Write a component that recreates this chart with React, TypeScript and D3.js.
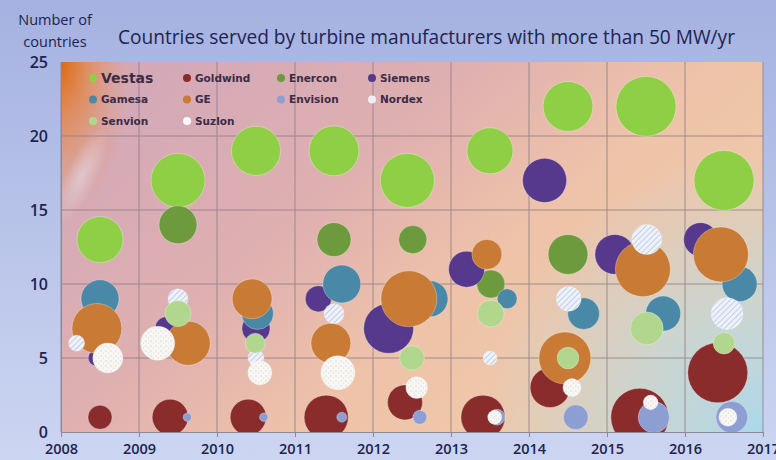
import { useEffect, useRef } from "react";
import * as d3 from "d3";

// [x position (year), countries served, bubble size]
const vestas = [[2008.5, 13, 59], [2009.5, 17, 81], [2010.5, 19, 67], [2011.5, 19, 69], [2012.44, 17, 81], [2013.5, 19, 59], [2014.5, 22, 69], [2015.5, 22, 100], [2016.5, 17, 100]];
const goldwind = [[2008.5, 1, 16], [2009.4, 1, 36], [2010.4, 1, 36], [2011.4, 1, 54], [2012.41, 2, 34], [2013.41, 1, 54], [2014.27, 3, 44], [2015.42, 1, 93], [2016.42, 4, 100]];
const enercon = [[2009.5, 14, 40], [2011.5, 13, 32], [2012.51, 13, 22], [2013.51, 10, 22], [2014.5, 12, 44]];
const siemens = [[2008.45, 5, 7], [2009.36, 7, 16], [2010.5, 7, 22], [2011.3, 9, 19], [2012.2, 7, 69], [2013.2, 11, 36], [2014.2, 17, 54], [2015.1, 12, 44], [2016.2, 13, 32]];
const gamesa = [[2008.5, 9, 40], [2010.52, 8, 28], [2011.6, 10, 40], [2012.73, 9, 36], [2013.72, 9, 11], [2014.7, 8, 28], [2015.72, 8, 34], [2016.7, 10, 34]];
const ge = [[2008.46, 7, 69], [2009.63, 6, 54], [2010.45, 9, 44], [2011.46, 6, 44], [2012.46, 9, 87], [2013.46, 12, 25], [2014.46, 5, 75], [2015.46, 11, 84], [2016.46, 12, 84]];
const envision = [[2009.62, 1, 2], [2010.6, 1, 2], [2011.6, 1, 2.8], [2012.6, 1, 5.4], [2013.59, 1, 7], [2014.6, 1, 17], [2015.6, 1, 27], [2016.6, 1, 28]];
const nordex = [[2008.2, 6, 7], [2009.5, 9, 11], [2010.5, 5, 7], [2011.5, 8, 11], [2013.5, 5, 5.4], [2014.51, 9, 17], [2015.51, 13, 25], [2016.54, 8, 28]];
const senvion = [[2009.5, 8, 19], [2010.49, 6, 11], [2012.5, 5, 17], [2013.51, 8, 20], [2014.5, 5, 13], [2015.51, 7, 30], [2016.5, 6, 13]];
const suzlon = [[2008.6, 5, 25], [2009.24, 6, 32], [2010.55, 4, 16], [2011.55, 4, 32], [2012.56, 3, 13], [2013.56, 1, 5.4], [2014.55, 3, 9], [2015.56, 2, 6], [2016.55, 1, 9]];

const manufacturers = ["Vestas", "Goldwind", "Enercon", "Siemens", "Gamesa", "GE", "Envision", "Nordex", "Senvion", "Suzlon"];
const seriesData = [vestas, goldwind, enercon, siemens, gamesa, ge, envision, nordex, senvion, suzlon];
const seriesFill = ["#8fcf45", "#8a2b2c", "#6c9a3c", "#56398c", "#4a88a8", "#c97a35", "#8d9ed3", "url(#hatch)", "#b1d78f", "url(#speckle)"];
const legendSwatch = ["#8fcf45", "#8a2b2c", "#6c9a3c", "#56398c", "#4a88a8", "#c97a35", "#8d9ed3", "#eef0f8", "#b1d78f", "#fbfbfb"];

const xTicks = [2008, 2009, 2010, 2011, 2012, 2013, 2014, 2015, 2016, 2017];
const yTicks = [0, 5, 10, 15, 20, 25];
const title = "Countries served by turbine manufacturers with more than 50 MW/yr";

export default function App() {
  const svgRef = useRef<SVGSVGElement | null>(null);

  useEffect(() => {
    const W = 776, H = 460;
    const margin = { top: 62, right: 13, bottom: 28, left: 61 };
    const svg = d3.select(svgRef.current);
    svg.selectAll("*").remove();

    const x = d3.scaleLinear().domain([2008, 2017]).range([margin.left, W - margin.right]);
    const y = d3.scaleLinear().domain([0, 25]).range([H - margin.bottom, margin.top]);
    const r = d3.scaleSqrt().domain([0, 100]).range([0, 30]);
    const pw = W - margin.left - margin.right, ph = H - margin.top - margin.bottom;

    const defs = svg.append("defs");
    const outer = defs.append("linearGradient").attr("id", "outer").attr("x1", 0).attr("y1", 0).attr("x2", 0).attr("y2", 1);
    outer.append("stop").attr("offset", "0%").attr("stop-color", "#a5b2e1");
    outer.append("stop").attr("offset", "100%").attr("stop-color", "#ccd5f1");

    const plotBg = defs.append("linearGradient").attr("id", "plotbg").attr("x1", 0).attr("y1", 0.2).attr("x2", 1).attr("y2", 0.8);
    plotBg.append("stop").attr("offset", "0%").attr("stop-color", "#d3a8b8");
    plotBg.append("stop").attr("offset", "35%").attr("stop-color", "#dfb0b0");
    plotBg.append("stop").attr("offset", "60%").attr("stop-color", "#eec3a9");
    plotBg.append("stop").attr("offset", "100%").attr("stop-color", "#f0cca9");

    const blue = defs.append("radialGradient").attr("id", "bluecorner")
      .attr("gradientUnits", "userSpaceOnUse").attr("cx", W - margin.right).attr("cy", H - margin.bottom).attr("r", 280);
    blue.append("stop").attr("offset", "0%").attr("stop-color", "#acd8ea").attr("stop-opacity", 1);
    blue.append("stop").attr("offset", "45%").attr("stop-color", "#bcd9e0").attr("stop-opacity", 0.7);
    blue.append("stop").attr("offset", "100%").attr("stop-color", "#bcd9e0").attr("stop-opacity", 0);

    const orange = defs.append("radialGradient").attr("id", "orangecorner")
      .attr("gradientUnits", "userSpaceOnUse").attr("cx", margin.left).attr("cy", margin.top).attr("r", 160)
      .attr("gradientTransform", `translate(${margin.left},${margin.top}) scale(0.45,1) translate(${-margin.left},${-margin.top})`);
    orange.append("stop").attr("offset", "0%").attr("stop-color", "#de6810").attr("stop-opacity", 1);
    orange.append("stop").attr("offset", "35%").attr("stop-color", "#e2823a").attr("stop-opacity", 0.7);
    orange.append("stop").attr("offset", "100%").attr("stop-color", "#e8a070").attr("stop-opacity", 0);

    const glow = defs.append("radialGradient").attr("id", "glow")
      .attr("gradientUnits", "userSpaceOnUse").attr("cx", 82).attr("cy", 175).attr("r", 40)
      .attr("gradientTransform", "translate(82,175) rotate(25) scale(0.4,1.3) translate(-82,-175)");
    glow.append("stop").attr("offset", "0%").attr("stop-color", "#e4dcef").attr("stop-opacity", 0.6);
    glow.append("stop").attr("offset", "100%").attr("stop-color", "#e4dcef").attr("stop-opacity", 0);

    const hatch = defs.append("pattern").attr("id", "hatch").attr("patternUnits", "userSpaceOnUse")
      .attr("width", 4).attr("height", 4).attr("patternTransform", "rotate(45)");
    hatch.append("rect").attr("width", 4).attr("height", 4).attr("fill", "#eef2fa");
    hatch.append("line").attr("x1", 0).attr("y1", 0).attr("x2", 0).attr("y2", 4).attr("stroke", "#a9b9e0").attr("stroke-width", 1.3);

    const speckle = defs.append("pattern").attr("id", "speckle").attr("patternUnits", "userSpaceOnUse")
      .attr("width", 5).attr("height", 5);
    speckle.append("rect").attr("width", 5).attr("height", 5).attr("fill", "#f8f7f3");
    speckle.append("circle").attr("cx", 1).attr("cy", 1).attr("r", 0.7).attr("fill", "#cfd4e0");
    speckle.append("circle").attr("cx", 3.5).attr("cy", 3).attr("r", 0.6).attr("fill", "#dcd6cc");

    defs.append("clipPath").attr("id", "plotclip").append("rect")
      .attr("x", margin.left).attr("y", margin.top).attr("width", pw).attr("height", ph);

    svg.append("rect").attr("width", W).attr("height", H).attr("fill", "url(#outer)");

    const bg = svg.append("g");
    ["url(#plotbg)", "url(#bluecorner)", "url(#orangecorner)", "url(#glow)"].forEach(fill => {
      bg.append("rect").attr("x", margin.left).attr("y", margin.top).attr("width", pw).attr("height", ph).attr("fill", fill);
    });

    // grid
    const grid = svg.append("g").attr("stroke", "#8c7c86").attr("stroke-width", 1).attr("opacity", 0.8);
    grid.selectAll(".vg").data(xTicks).join("line")
      .attr("x1", d => x(d)).attr("x2", d => x(d)).attr("y1", margin.top).attr("y2", H - margin.bottom);
    grid.selectAll(".hg").data(yTicks.filter(d => d > 0 && d < 25)).join("line")
      .attr("x1", margin.left).attr("x2", W - margin.right).attr("y1", d => y(d)).attr("y2", d => y(d));

    // legend
    const legend = svg.append("g");
    const colX = [93, 187, 281, 372];
    manufacturers.forEach((name, i) => {
      const col = i % 4, row = Math.floor(i / 4);
      const ly = 78 + row * 21.5;
      const gx = colX[col];
      legend.append("circle").attr("cx", gx).attr("cy", ly).attr("r", 4).attr("fill", legendSwatch[i]);
      legend.append("text").attr("x", gx + 8).attr("y", ly).attr("dy", "0.35em")
        .style("font-family", "'DejaVu Sans', sans-serif")
        .style("font-size", i === 0 ? "14px" : "10.5px")
        .style("font-weight", i === 0 ? "600" : "bold")
        .attr("fill", "#3b2c46")
        .text(name);
    });

    // bubbles
    const bubbles = svg.append("g").attr("clip-path", "url(#plotclip)");
    seriesData.forEach((pts, i) => {
      bubbles.append("g").selectAll("circle").data(pts).join("circle")
        .attr("cx", d => x(d[0]))
        .attr("cy", d => y(d[1]))
        .attr("r", d => r(d[2]))
        .attr("fill", seriesFill[i])
        .attr("stroke", "rgba(255,255,255,0.3)")
        .attr("stroke-width", 1);
    });

    // axes
    const xAxis = svg.append("g").attr("transform", `translate(0,${H - margin.bottom})`)
      .call(d3.axisBottom(x).tickValues(xTicks).tickFormat(d3.format("d")).tickSize(5).tickPadding(7));
    xAxis.select(".domain").attr("stroke", "#8c8894");
    xAxis.selectAll(".tick line").attr("stroke", "#8c8894");
    xAxis.selectAll("text").style("font-size", "14.5px").style("font-weight", "600")
      .style("font-family", "'Open Sans', sans-serif").attr("fill", "#1d2450");

    const yAxis = svg.append("g").attr("transform", `translate(${margin.left},0)`)
      .call(d3.axisLeft(y).tickValues(yTicks).tickSize(0).tickPadding(13));
    yAxis.select(".domain").attr("stroke", "#8c8894");
    yAxis.selectAll("text").style("font-size", "16px").style("font-weight", "600")
      .style("font-family", "'Open Sans', sans-serif").attr("fill", "#1d2450");

    // titles
    const ylab = svg.append("text").attr("text-anchor", "middle")
      .style("font-family", "'Open Sans', sans-serif").style("font-size", "14.5px").attr("fill", "#1d2450");
    ylab.append("tspan").attr("x", 55).attr("y", 25).text("Number of");
    ylab.append("tspan").attr("x", 55).attr("y", 47).text("countries");

    svg.append("text").attr("x", 118).attr("y", 44)
      .attr("textLength", 617).attr("lengthAdjust", "spacingAndGlyphs")
      .style("font-family", "'Open Sans', sans-serif").style("font-size", "20px").attr("fill", "#1d2450")
      .text(title);
  }, []);

  return <svg ref={svgRef} width={776} height={460} style={{ position: "absolute", left: 0, top: 0, display: "block" }} />;
}
